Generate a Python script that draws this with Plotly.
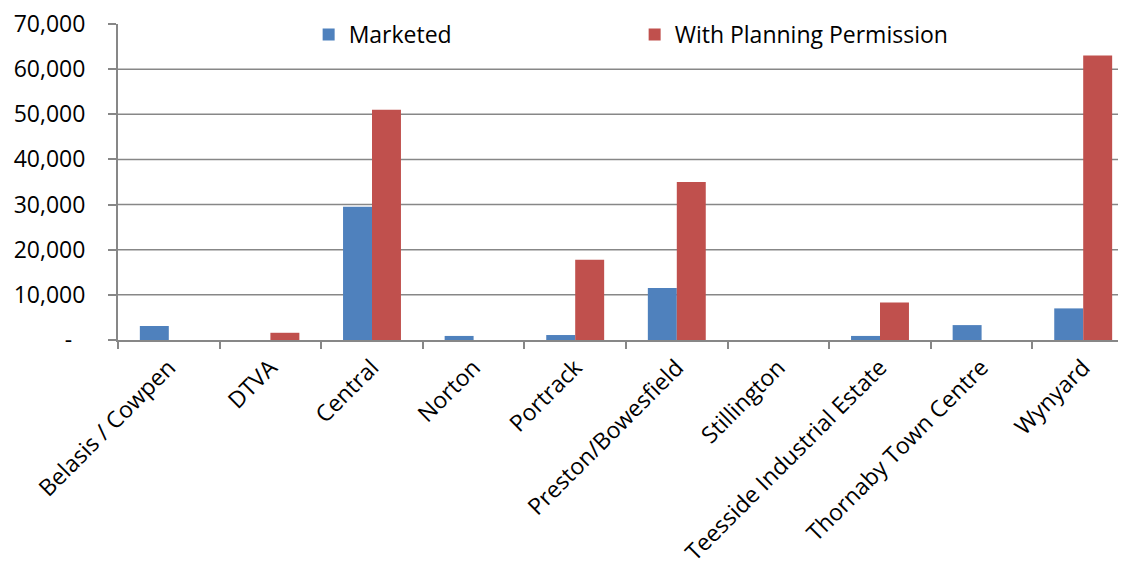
import plotly.graph_objects as go

categories = ["Belasis / Cowpen", "DTVA", "Central", "Norton", "Portrack",
              "Preston/Bowesfield", "Stillington", "Teesside Industrial Estate",
              "Thornaby Town Centre", "Wynyard"]
marketed = [3100, 0, 29500, 900, 1100, 11500, 0, 900, 3300, 7000]
planning = [0, 1600, 51000, 0, 17800, 35000, 0, 8300, 0, 63000]
ytick_vals = [0, 10000, 20000, 30000, 40000, 50000, 60000, 70000]
ytick_text = ["-\u2007", "10,000", "20,000", "30,000", "40,000", "50,000", "60,000", "70,000"]
grid_vals = [10000, 20000, 30000, 40000, 50000, 60000]

FONT = "Open Sans"
AXIS = "#878787"
FS = 23

fig = go.Figure()
fig.add_trace(go.Bar(name="Marketed", x=categories, y=marketed,
                     marker=dict(color="#4F81BD", line=dict(width=0))))
fig.add_trace(go.Bar(name="With Planning Permission", x=categories, y=planning,
                     marker=dict(color="#C0504D", line=dict(width=0))))

for g in grid_vals:
    fig.add_shape(type="line", xref="paper", x0=0, x1=1, yref="y", y0=g, y1=g,
                  line=dict(color=AXIS, width=1.5), layer="below")

fig.update_layout(
    width=1126, height=565,
    margin=dict(l=110, r=0, t=16, b=233, autoexpand=False),
    paper_bgcolor="white", plot_bgcolor="white",
    barmode="group", bargap=0.43, bargroupgap=0,
    font=dict(family=FONT, size=FS, color="black"),
    showlegend=True,
    legend=dict(orientation="h", xref="container", yref="container",
                x=0.267, y=1 - 26.5 / 565, xanchor="left", yanchor="middle",
                entrywidth=281, entrywidthmode="pixels",
                font=dict(family=FONT, size=FS, color="black"),
                itemwidth=30, bgcolor="rgba(0,0,0,0)"),
)
fig.update_xaxes(type="category", range=[-0.5, 9.5], tickson="boundaries",
                 ticks="outside", ticklen=7, tickwidth=1.5, tickcolor=AXIS,
                 showline=True, linecolor=AXIS, linewidth=2, showgrid=False,
                 tickangle=-45, automargin=False, ticklabelstandoff=3,
                 ticklabeloverflow="allow",
                 tickfont=dict(family=FONT, size=FS, color="black"))
fig.update_yaxes(range=[0, 70000], tickvals=ytick_vals, ticktext=ytick_text,
                 ticks="outside", ticklen=8, tickwidth=1.5, tickcolor=AXIS,
                 showline=True, linecolor=AXIS, linewidth=2, showgrid=False,
                 zeroline=False, ticklabelstandoff=18, automargin=False,
                 ticklabeloverflow="allow",
                 tickfont=dict(family=FONT, size=23, color="black"))

fig.write_html("out.html")
